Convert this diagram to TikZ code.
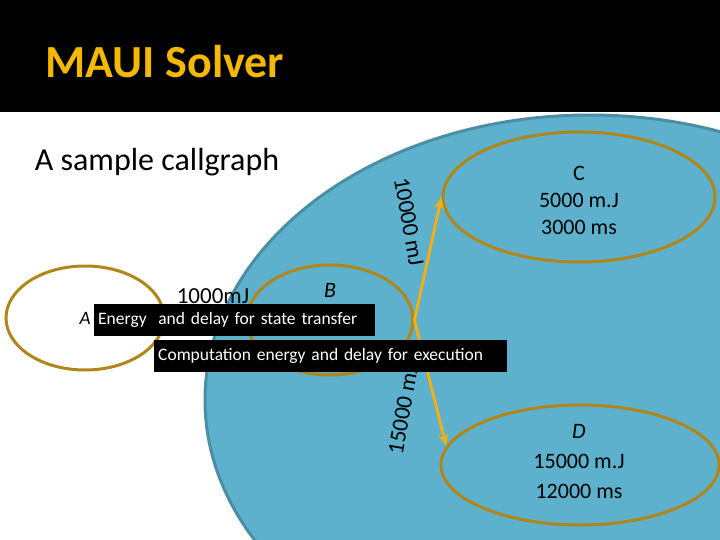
\documentclass[tikz,border=0pt]{standalone}
\usepackage{fontspec}
\setmainfont{Carlito}
\usetikzlibrary{shapes.geometric, arrows.meta}
\definecolor{gold}{HTML}{B0861A}
\definecolor{arrowgold}{HTML}{F0B018}
\definecolor{skyfill}{HTML}{5DB1CC}
\definecolor{skyedge}{HTML}{4A8EA3}
\definecolor{titlegold}{HTML}{F5B800}
\begin{document}
\begin{tikzpicture}[x=1pt,y=-1pt]
        \tikzset{method/.style = {shape=ellipse,draw=gold,line width=3pt,inner sep=0pt}}
        \tikzset{tip/.style = {fill=black,text=white,font=\fontsize{17.5}{20}\selectfont,inner sep=4pt,minimum height=32pt,align=left}}
        \tikzset{edge/.style = {draw=arrowgold,line width=3pt,-{Stealth[length=12pt,width=10pt]}}}
        \useasboundingbox (0,0) rectangle (720,540);
        \begin{scope}
          \clip (0,0) rectangle (720,540);
          \fill[white] (0,0) rectangle (720,540);
          \draw[skyedge,fill=skyfill,line width=3pt] (590,400) ellipse [x radius=385, y radius=285];
          \fill[black] (0,0) rectangle (720,112);
        \end{scope}
        \node[text=titlegold,font=\bfseries\fontsize{46}{50}\selectfont,anchor=west] (title) at (42,62) {MAUI Solver};
        \node[font=\fontsize{32}{36}\selectfont] (caption) at (157,162) {A sample callgraph};

        \node[method, minimum width=158pt, minimum height=104pt] (A) at (85,318) {};
        \node[method, minimum width=166pt, minimum height=110pt] (B) at (330,320) {};
        \node[method, minimum width=272pt, minimum height=130pt] (C) at (579,197) {};
        \node[method, minimum width=278pt, minimum height=120pt] (D) at (580,465) {};

        \node[font=\itshape\fontsize{19}{22}\selectfont] (Alabel) at (85,318) {A};
        \node[font=\itshape\fontsize{22}{24}\selectfont] (Blabel) at (330,290) {B};
        \node[font=\fontsize{23}{26}\selectfont] (cost) at (213,296) {1000mJ};
        \node[font=\fontsize{22}{27}\selectfont, align=center] (Ctext) at (579,200) {C\\5000 m.J\\3000 ms};
        \node[font=\fontsize{22}{30}\selectfont, align=center] (Dtext) at (579,462) {\textit{D}\\15000 m.J\\12000 ms};

        \draw[edge] (B.east) to (C.west);
        \draw[edge] (B.east) to (D.172);
        \node[font=\fontsize{23}{26}\selectfont, rotate=-80] (toC) at (409,222) {10000 mJ};
        \node[font=\fontsize{23}{26}\selectfont, rotate=80] (toD) at (403,410) {15000 mJ};

        \node[tip, anchor=west, text width=273pt] (transfer) at (94,320) {Energy\ \ and delay for state transfer};
        \node[tip, anchor=west, text width=345pt] (execution) at (154,356) {Computation energy and delay for execution};
\end{tikzpicture}
\end{document}
